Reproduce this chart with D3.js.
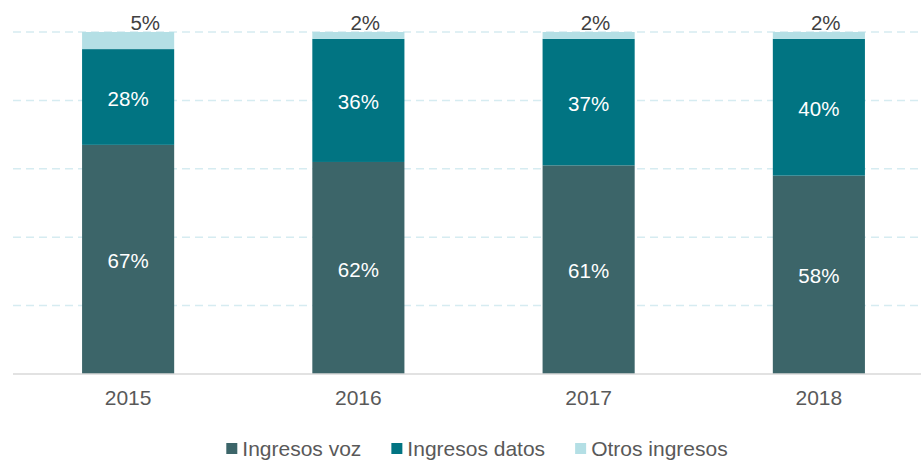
<!DOCTYPE html>
<html>
<head>
<meta charset="utf-8">
<script src="https://cdn.jsdelivr.net/npm/d3@7"></script>
<style>
  body { margin: 0; background: #fff; }
  svg { display: block; font-family: 'Liberation Sans', Arial, sans-serif; }
</style>
</head>
<body>
<div id="chart"></div>
<script>
const years = ['2015', '2016', '2017', '2018']
const voz = [67, 62, 61, 58]
const datos = [28, 36, 37, 40]
const otros = [5, 2, 2, 2]
const seriesNames = ['Ingresos voz', 'Ingresos datos', 'Otros ingresos']
const gridTicks = [0.2, 0.4, 0.6, 0.8, 1.0]

const width = 921
const height = 462
const colors = ['#3c6569', '#017482', '#b4dfe5']

const rows = years.map((yr, i) => ({ year: yr, voz: voz[i], datos: datos[i], otros: otros[i] }))
const keys = ['voz', 'datos', 'otros']
const stack = d3.stack().keys(keys)(rows)

const x = d3.scaleBand().domain(years).range([13, 934]).paddingInner(0.6).paddingOuter(0.3)
const y = d3.scaleLinear().domain([0, 100]).range([374, 32])

const svg = d3.select('#chart').append('svg').attr('width', width).attr('height', height)

// gridlines
svg.append('g')
  .selectAll('line')
  .data(gridTicks)
  .join('line')
  .attr('x1', 13)
  .attr('x2', width)
  .attr('y1', d => y(d * 100))
  .attr('y2', d => y(d * 100))
  .attr('stroke', '#d6ecf1')
  .attr('stroke-width', 1.5)
  .attr('stroke-dasharray', '8,5')

// bars
stack.forEach((s, si) => {
  svg.append('g')
    .attr('fill', colors[si])
    .selectAll('rect')
    .data(s)
    .join('rect')
    .attr('x', d => x(d.data.year))
    .attr('width', x.bandwidth())
    .attr('y', d => y(d[1]))
    .attr('height', d => y(d[0]) - y(d[1]))
})

// baseline axis
const xAxis = d3.axisBottom(x).tickSize(0).tickPadding(16)
svg.append('g')
  .attr('transform', `translate(0, ${y(0)})`)
  .call(xAxis)
  .call(g => g.select('.domain').attr('d', `M13,0H${width}`).attr('stroke', '#d9d9d9').attr('stroke-width', 1.5))
  .call(g => g.selectAll('text')
    .attr('font-family', 'Liberation Sans, Arial, sans-serif')
    .attr('font-size', 21)
    .attr('fill', '#595959'))

// labels inside bars
stack.slice(0, 2).forEach(s => {
  svg.append('g')
    .selectAll('text')
    .data(s)
    .join('text')
    .attr('x', d => x(d.data.year) + x.bandwidth() / 2)
    .attr('y', d => (y(d[0]) + y(d[1])) / 2)
    .attr('dy', '0.42em')
    .attr('text-anchor', 'middle')
    .attr('font-size', 20.5)
    .attr('fill', '#ffffff')
    .text(d => `${d[1] - d[0]}%`)
})

// labels above the top segment
svg.append('g')
  .selectAll('text')
  .data(stack[2])
  .join('text')
  .attr('x', d => x(d.data.year) + x.bandwidth() / 2 + (y(d[0]) - y(d[1])))
  .attr('y', d => y(d[1]) - 2)
  .attr('text-anchor', 'middle')
  .attr('font-size', 20.5)
  .attr('fill', '#404040')
  .text(d => `${d[1] - d[0]}%`)

// legend
const legend = svg.append('g')
let lx = 0
seriesNames.forEach((name, i) => {
  const item = legend.append('g').attr('transform', `translate(${lx}, 0)`)
  item.append('rect').attr('x', 0).attr('y', 443).attr('width', 11).attr('height', 11).attr('fill', colors[i])
  const t = item.append('text')
    .attr('x', 16)
    .attr('y', 456)
    .attr('font-size', 21)
    .attr('fill', '#595959')
    .text(name)
  lx += 16 + t.node().getComputedTextLength() + 30
})
const legendWidth = lx - 30
legend.attr('transform', `translate(${477 - legendWidth / 2}, 0)`)
</script>
</body>
</html>
